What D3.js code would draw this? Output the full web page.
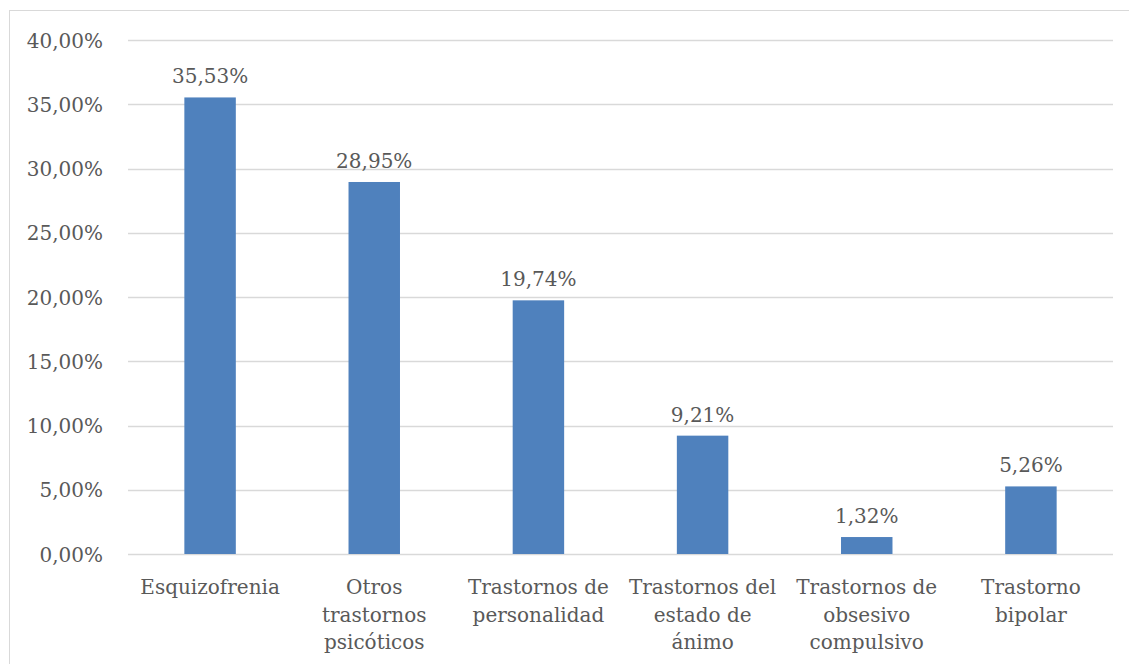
<!DOCTYPE html>
<html>
<head>
<meta charset="utf-8">
<script src="https://cdn.jsdelivr.net/npm/d3@7"></script>
<style>
  html, body { margin: 0; padding: 0; background: #fff; }
  svg { display: block; }
</style>
</head>
<body>
<svg id="chart" width="1129" height="664"></svg>
<script>
const categories = [
  ["Esquizofrenia"],
  ["Otros", "trastornos", "psicóticos"],
  ["Trastornos de", "personalidad"],
  ["Trastornos del", "estado de", "ánimo"],
  ["Trastornos de", "obsesivo", "compulsivo"],
  ["Trastorno", "bipolar"]
];
const values = [35.53, 28.95, 19.74, 9.21, 1.32, 5.26];
const yTicks = [0, 5, 10, 15, 20, 25, 30, 35, 40];

const fmt = v => v.toFixed(2).replace(".", ",") + "%";
const FONT = "'DejaVu Serif', 'Liberation Serif', serif";
const TXT = "#595959";

const svg = d3.select("#chart");
const plotLeft = 128, plotRight = 1113, plotTop = 40, plotBottom = 554;

// outer chart border
svg.append("rect")
  .attr("x", 9.5).attr("y", 10.5)
  .attr("width", 1140).attr("height", 700)
  .attr("fill", "none").attr("stroke", "#d9d9d9").attr("stroke-width", 1);

const idx = d3.range(categories.length);
const x = d3.scaleBand().domain(idx).range([plotLeft, plotRight]).padding(0);
const barW = x.bandwidth() / 3.19;
const y = d3.scaleLinear().domain([0, 40]).range([plotBottom, plotTop]);

// gridlines
svg.append("g").selectAll("line").data(yTicks).join("line")
  .attr("x1", plotLeft).attr("x2", plotRight)
  .attr("y1", d => Math.round(y(d)) + 0.5).attr("y2", d => Math.round(y(d)) + 0.5)
  .attr("stroke", "#d9d9d9").attr("stroke-width", 1.3);

// y axis labels
const yAxis = d3.axisLeft(y).tickValues(yTicks).tickFormat(fmt).tickSize(0).tickPadding(0);
const gy = svg.append("g").attr("transform", `translate(${plotLeft - 25},0)`).call(yAxis);
gy.select(".domain").remove();
gy.selectAll("text")
  .attr("font-family", FONT).attr("font-size", 20).attr("fill", TXT)
  .attr("dy", "0.35em");

// bars
svg.append("g").selectAll("rect").data(values).join("rect")
  .attr("x", (d, i) => x(i) + x.bandwidth() / 2 - barW / 2)
  .attr("width", barW)
  .attr("y", d => y(d))
  .attr("height", d => y(0) - y(d))
  .attr("fill", "#4f81bd");

// data labels
svg.append("g").selectAll("text").data(values).join("text")
  .attr("x", (d, i) => x(i) + x.bandwidth() / 2)
  .attr("y", d => y(d) - 14)
  .attr("text-anchor", "middle")
  .attr("font-family", FONT).attr("font-size", 20).attr("fill", TXT)
  .text(d => fmt(d));

// category labels
const gx = svg.append("g");
categories.forEach((lines, i) => {
  const t = gx.append("text")
    .attr("x", x(i) + x.bandwidth() / 2)
    .attr("y", 594)
    .attr("text-anchor", "middle")
    .attr("font-family", FONT).attr("font-size", 20).attr("fill", TXT);
  lines.forEach((ln, j) => {
    t.append("tspan").attr("x", x(i) + x.bandwidth() / 2).attr("dy", j === 0 ? 0 : 27.5).text(ln);
  });
});
</script>
</body>
</html>
